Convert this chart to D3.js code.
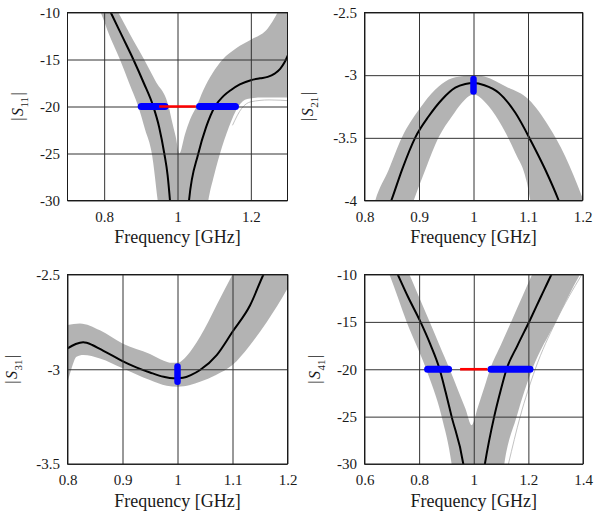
<!DOCTYPE html>
<html>
<head>
<meta charset="utf-8">
<script src="https://cdn.jsdelivr.net/npm/d3@7"></script>
<style>
  body { margin: 0; background: #fff; }
  text { font-family: "Liberation Serif", "Times New Roman", serif; fill: #1a1a1a; }
</style>
</head>
<body>
<svg id="fig" width="595" height="515"></svg>
<script>
// |S11| : nominal response, Monte Carlo envelope, -20 dB crossings
const s11NomF = [0.80, 0.818, 0.85, 0.8796, 0.908, 0.934, 0.95, 0.964, 0.973, 0.9795, 0.99, 1.008, 1.02, 1.0314, 1.0568, 1.078, 1.102, 1.125, 1.146, 1.17, 1.2, 1.225, 1.246, 1.265, 1.28, 1.292, 1.305];
const s11Nom  = [-8.5, -10, -12.6, -15, -17.5, -20, -22.2, -25, -27.3, -30, -35.5, -45, -36, -30, -25, -22.2, -20, -18.9, -18.24, -17.65, -17.2, -17.0, -16.85, -16.5, -16.0, -15.3, -14.2];
const s11HiF  = [0.68, 0.74, 0.80, 0.8386, 0.87, 0.909, 0.94, 0.976, 0.984, 0.995, 1.005, 1.02, 1.034, 1.052, 1.07, 1.095, 1.123, 1.16, 1.2, 1.246, 1.273, 1.31];
const s11Hi   = [-1, -4.5, -7.3, -10, -12.3, -15, -17.3, -20, -21.4, -23.2, -25, -23, -21.4, -20, -18.3, -16.5, -15, -13.8, -12.9, -11.7, -10, -7];
const s11LoF  = [0.68, 0.74, 0.7905, 0.815, 0.843, 0.868, 0.893, 0.912, 0.930, 0.946, 0.96, 1.0, 1.05, 1.07, 1.084, 1.10, 1.116, 1.14, 1.166, 1.19, 1.23, 1.27, 1.31];
const s11Lo   = [-3.5, -7, -10, -12.5, -15, -17.5, -20, -22.5, -25, -30, -35, -45, -40, -34, -30, -27.3, -25, -22.2, -20, -19.2, -19.05, -19.05, -19.05];
const s11OutF = [1.15, 1.175, 1.2, 1.25, 1.31];
const s11Out  = [-22, -20.2, -19.5, -19.3, -19.4];
const s11Cross = [[0.901, 0.966], [1.060, 1.158]];

// |S21|
const s21NomF = [0.83, 0.8492, 0.8688, 0.8933, 0.9178, 0.9422, 0.9666, 0.985, 1.0, 1.02, 1.0462, 1.0768, 1.1073, 1.1318, 1.1563, 1.17];
const s21Nom  = [-4.2, -4.0, -3.755, -3.496, -3.328, -3.194, -3.10, -3.07, -3.062, -3.08, -3.14, -3.30, -3.541, -3.755, -4.0, -4.16];
const s21HiF  = [0.80, 0.8198, 0.8444, 0.8688, 0.9, 0.93, 0.9545, 0.9789, 1.0, 1.02, 1.0584, 1.1013, 1.138, 1.1684, 1.199, 1.21];
const s21Hi   = [-4.35, -4.0, -3.755, -3.496, -3.274, -3.114, -3.034, -3.008, -3.0, -3.01, -3.088, -3.194, -3.408, -3.648, -3.968, -4.1];
const s21LoF  = [0.875, 0.8903, 0.9116, 0.9361, 0.9606, 0.9789, 1.0, 1.0279, 1.0523, 1.0768, 1.0982, 1.1042, 1.115];
const s21Lo   = [-4.2, -4.0, -3.755, -3.496, -3.328, -3.22, -3.154, -3.248, -3.408, -3.621, -3.861, -4.0, -4.2];
const s21Centre = [-3.03, -3.13];

// |S31|
const s31NomF = [0.79, 0.80, 0.815, 0.8285, 0.845, 0.8589, 0.88, 0.90, 0.925, 0.95, 0.975, 0.9924, 1.01, 1.025, 1.041, 1.0713, 1.10, 1.132, 1.1563, 1.17];
const s31Nom  = [-2.91, -2.89, -2.867, -2.858, -2.872, -2.893, -2.925, -2.957, -2.99, -3.017, -3.04, -3.048, -3.045, -3.03, -3.004, -2.925, -2.802, -2.662, -2.5, -2.42];
const s31HiF  = [0.795, 0.80, 0.8225, 0.859, 0.90, 0.95, 0.975, 0.99, 1.0, 1.0167, 1.041, 1.071, 1.10, 1.12, 1.15, 1.21];
const s31Hi   = [-2.77, -2.767, -2.758, -2.794, -2.864, -2.92, -2.955, -2.966, -2.966, -2.93, -2.829, -2.662, -2.5, -2.39, -2.2, -1.8];
const s31LoF  = [0.795, 0.80, 0.8073, 0.8164, 0.8286, 0.8589, 0.9014, 0.9499, 0.9803, 1.0003, 1.0228, 1.041, 1.07, 1.0998, 1.13, 1.1624, 1.2, 1.21];
const s31Lo   = [-3.10, -3.066, -2.996, -2.934, -2.925, -2.943, -2.996, -3.057, -3.087, -3.092, -3.083, -3.066, -3.03, -2.978, -2.88, -2.75, -2.574, -2.52];
const s31Centre = [-2.985, -3.066];

// |S41|
const s41NomF = [0.70, 0.7218, 0.76, 0.8033, 0.84, 0.874, 0.897, 0.919, 0.9617, 0.98, 1.0, 1.02, 1.0408, 1.0749, 1.098, 1.12, 1.16, 1.2052, 1.245, 1.2843, 1.30];
const s41Nom  = [-8.6, -10, -12.4, -14.9, -17.3, -19.9, -22.4, -25, -30, -34, -40, -34, -30, -25, -22.3, -20, -17.5, -14.85, -12.4, -10, -9.0];
const s41HiF  = [0.58, 0.68, 0.7644, 0.80, 0.84, 0.875, 0.912, 0.945, 0.97, 0.992, 1.015, 1.04, 1.06, 1.10, 1.14, 1.18, 1.2137, 1.25, 1.30, 1.42];
const s41Hi   = [0, -5.5, -10, -12.4, -15.1, -17.5, -20, -22.4, -24.2, -25.9, -24.0, -21.8, -20, -17.4, -14.8, -12.2, -10, -7.8, -4.8, 2];
const s41LoF  = [0.58, 0.66, 0.6913, 0.7545, 0.826, 0.8826, 0.919, 0.94, 1.0, 1.08, 1.112, 1.157, 1.214, 1.30, 1.389, 1.42, 1.45];
const s41Lo   = [-3.3, -7.8, -10, -15, -20, -25, -30, -35, -45, -38, -30, -25, -20, -15, -10, -8.5, -7];
const s41OutF = [1.127, 1.17, 1.225, 1.30, 1.396];
const s41Out  = [-30, -25, -20, -15, -10];
const s41Cross = [[0.831, 0.908], [1.063, 1.206]];

// passband specification and axis ticks
const specBand = [0.95, 1.05];
const specLevel = -20;
const ticksF07 = [0.8, 1, 1.2];
const ticksF08 = [0.8, 0.9, 1, 1.1, 1.2];
const ticksF06 = [0.6, 0.8, 1, 1.2, 1.4];
const ticksDb  = [-30, -25, -20, -15, -10];
const ticksS21 = [-4, -3.5, -3, -2.5];
const ticksS31 = [-3.5, -3, -2.5];

const svg = d3.select("#fig");
const bandGray = "#b3b3b3";

function drawPanel(p, idx) {
  const x = d3.scaleLinear().domain(p.xDom).range([p.x0, p.x1]);
  const y = d3.scaleLinear().domain(p.yDom).range([p.y1, p.y0]);
  const w = p.x1 - p.x0, h = p.y1 - p.y0;
  const g = svg.append("g");

  g.append("clipPath").attr("id", "clip" + idx)
    .append("rect").attr("x", p.x0).attr("y", p.y0).attr("width", w).attr("height", h);
  const plot = g.append("g").attr("clip-path", `url(#clip${idx})`);

  const line = d3.line()
    .x(d => x(d[0]))
    .y(d => y(d[1]))
    .curve(d3.curveMonotoneX);

  // gray Monte Carlo envelope: fill everything under the upper edge,
  // then mask out what lies under the lower edge
  const below = d3.area()
    .x(d => x(d[0])).y0(p.y1 + 400).y1(d => y(d[1]))
    .curve(d3.curveMonotoneX);
  const mask = g.append("mask").attr("id", "mask" + idx);
  mask.append("rect").attr("width", 595).attr("height", 515).attr("fill", "#fff");
  mask.append("path").attr("d", below(d3.zip(p.loF, p.lo))).attr("fill", "#000");
  plot.append("path")
    .attr("d", below(d3.zip(p.hiF, p.hi)))
    .attr("mask", `url(#mask${idx})`)
    .attr("fill", bandGray);

  if (p.outF) {
    plot.append("path")
      .attr("d", line(d3.zip(p.outF, p.out)))
      .attr("fill", "none").attr("stroke", bandGray).attr("stroke-width", 0.8);
  }

  // grid on top of the envelope
  const gx = g.append("g").attr("transform", `translate(0,${p.y1})`)
    .call(d3.axisBottom(x).tickValues(p.xTicks).tickSize(-h).tickPadding(10.5)
      .tickFormat(d => String(d)));
  const gy = g.append("g").attr("transform", `translate(${p.x0},0)`)
    .call(d3.axisLeft(y).tickValues(p.yTicks).tickSize(-w).tickPadding(7.5)
      .tickFormat(d => String(d)));
  [gx, gy].forEach(a => {
    a.attr("font-family", null);
    a.select(".domain").remove();
    a.selectAll("line").attr("stroke", "#333").attr("stroke-width", 1);
    a.selectAll("text").attr("font-size", 15).attr("fill", "#1a1a1a");
  });

  plot.append("path")
    .attr("d", line(d3.zip(p.nomF, p.nom)))
    .attr("fill", "none").attr("stroke", "#000").attr("stroke-width", 2);

  // -20 dB crossings (markers) and specification
  if (p.cross) {
    p.cross.forEach(c => {
      g.append("line")
        .attr("x1", x(c[0])).attr("x2", x(c[1]))
        .attr("y1", y(specLevel)).attr("y2", y(specLevel))
        .attr("stroke", "#0000ff").attr("stroke-width", 7).attr("stroke-linecap", "round");
    });
    g.append("line")
      .attr("x1", x(specBand[0])).attr("x2", x(specBand[1]))
      .attr("y1", y(specLevel)).attr("y2", y(specLevel))
      .attr("stroke", "#ff0000").attr("stroke-width", 2.6);
  }
  if (p.centre) {
    g.append("line")
      .attr("x1", x(1)).attr("x2", x(1))
      .attr("y1", y(p.centre[0])).attr("y2", y(p.centre[1]))
      .attr("stroke", "#0000ff").attr("stroke-width", 6.5).attr("stroke-linecap", "round");
  }

  g.append("rect")
    .attr("x", p.x0).attr("y", p.y0).attr("width", w).attr("height", h)
    .attr("fill", "none").attr("stroke", "#1a1a1a").attr("stroke-width", 1);

  g.append("text")
    .attr("x", (p.x0 + p.x1) / 2).attr("y", p.y1 + 42.5)
    .attr("text-anchor", "middle").attr("font-size", 18)
    .text("Frequency [GHz]");

  const yl = g.append("text")
    .attr("transform", `translate(${p.labelX},${(p.y0 + p.y1) / 2}) rotate(-90)`)
    .attr("text-anchor", "middle").attr("font-size", 16);
  yl.append("tspan").text("|");
  yl.append("tspan").attr("dx", 1.5).attr("font-style", "italic").text("S");
  yl.append("tspan").attr("dx", 0.5).attr("dy", 5).attr("font-size", 11).text(p.sub);
  yl.append("tspan").attr("dx", 1.5).attr("dy", -5).text("|");
}

const panels = [
  { x0: 67.5, x1: 287.5, y0: 12.5, y1: 200.5, labelX: 23, sub: "11",
    xDom: [0.7, 1.3], yDom: [-30, -10], xTicks: ticksF07, yTicks: ticksDb,
    nomF: s11NomF, nom: s11Nom, hiF: s11HiF, hi: s11Hi, loF: s11LoF, lo: s11Lo,
    outF: s11OutF, out: s11Out, cross: s11Cross },
  { x0: 364.5, x1: 582.5, y0: 12.5, y1: 200.5, labelX: 313, sub: "21",
    xDom: [0.8, 1.2], yDom: [-4, -2.5], xTicks: ticksF08, yTicks: ticksS21,
    nomF: s21NomF, nom: s21Nom, hiF: s21HiF, hi: s21Hi, loF: s21LoF, lo: s21Lo,
    centre: s21Centre },
  { x0: 67.5, x1: 287.5, y0: 274.5, y1: 464, labelX: 17, sub: "31",
    xDom: [0.8, 1.2], yDom: [-3.5, -2.5], xTicks: ticksF08, yTicks: ticksS31,
    nomF: s31NomF, nom: s31Nom, hiF: s31HiF, hi: s31Hi, loF: s31LoF, lo: s31Lo,
    centre: s31Centre },
  { x0: 364.5, x1: 583, y0: 274.5, y1: 464, labelX: 320, sub: "41",
    xDom: [0.6, 1.4], yDom: [-30, -10], xTicks: ticksF06, yTicks: ticksDb,
    nomF: s41NomF, nom: s41Nom, hiF: s41HiF, hi: s41Hi, loF: s41LoF, lo: s41Lo,
    outF: s41OutF, out: s41Out, cross: s41Cross }
];

panels.forEach(drawPanel);
</script>
</body>
</html>
